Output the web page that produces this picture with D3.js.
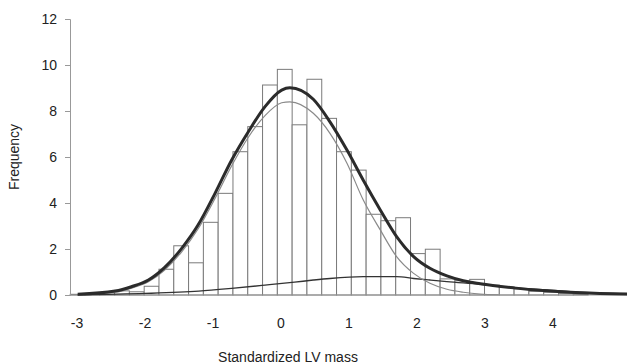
<!DOCTYPE html>
<html>
<head>
<meta charset="utf-8">
<script src="https://cdn.jsdelivr.net/npm/d3@7"></script>
<style>
  html, body { margin: 0; padding: 0; background: #fff; }
  svg { display: block; }
</style>
</head>
<body>
<svg id="svg"></svg>
<script>
// histogram counts (frequency, %) per bin, left to right
const binStart = -3.1;
const binWidth = 0.2176;
const binCounts = [0.03, 0.05, 0.1, 0.18, 0.14, 0.38, 1.12, 2.14, 1.4, 3.16,
  4.42, 6.23, 7.32, 9.13, 9.81, 7.4, 9.38, 7.68, 6.23, 5.43,
  3.51, 3.23, 3.36, 1.8, 1.99, 0.7, 0.62, 0.68, 0.43, 0.36,
  0.27, 0.16, 0.12, 0.07, 0.04];

// fitted curves
const totalX = [-2.99, -2.44, -2.2, -1.95, -1.71, -1.46, -1.22, -0.97, -0.725, -0.48, -0.235, 0.01, 0.13, 0.475, 0.72, 0.97, 1.21, 1.46, 1.7, 1.95, 2.19, 2.44, 2.68, 2.93, 3.42, 3.91, 4.4, 5.15];
const totalY = [0.03, 0.17, 0.36, 0.65, 1.2, 2.03, 3.04, 4.42, 5.87, 7.1, 8.19, 8.91, 9.01, 8.51, 7.53, 6.3, 4.99, 3.7, 2.54, 1.67, 1.16, 0.83, 0.62, 0.49, 0.31, 0.18, 0.1, 0.04];

const mainX = [-2.99, -2.44, -2.2, -1.95, -1.71, -1.46, -1.22, -0.97, -0.725, -0.48, -0.235, 0.01, 0.13, 0.475, 0.72, 0.97, 1.21, 1.46, 1.7, 1.95, 2.19, 2.44, 2.68, 2.93, 3.2];
const mainY = [0.02, 0.12, 0.3, 0.58, 1.09, 1.88, 2.87, 4.2, 5.62, 6.86, 7.8, 8.36, 8.4, 7.9, 7.03, 5.73, 4.13, 2.83, 1.67, 0.94, 0.51, 0.25, 0.12, 0.04, 0.01];

const secX = [-2.99, -2.0, -1.21, -0.725, -0.235, 0.2, 0.475, 0.72, 1.21, 1.7, 1.95, 2.19, 2.44, 2.93, 3.42, 3.91, 4.4, 5.15];
const secY = [0.01, 0.07, 0.17, 0.29, 0.43, 0.56, 0.65, 0.72, 0.8, 0.8, 0.72, 0.65, 0.58, 0.47, 0.32, 0.22, 0.12, 0.04];

const xTicks = [-3, -2, -1, 0, 1, 2, 3, 4];
const yTicks = [0, 2, 4, 6, 8, 10, 12];

const width = 627;
const height = 364;
const font = "'Liberation Sans', Arial, sans-serif";

const svg = d3.select("#svg")
  .attr("width", width)
  .attr("height", height)
  .attr("font-family", font)
  .attr("font-size", 14);

const x = d3.scaleLinear([-3, 4], [77, 553]);
const y = d3.scaleLinear([0, 12], [295, 19]);

// bars
svg.append("g")
  .selectAll("rect")
  .data(binCounts)
  .join("rect")
  .attr("x", (d, i) => x(binStart + i * binWidth))
  .attr("y", d => y(d))
  .attr("width", x(binWidth) - x(0))
  .attr("height", d => y(0) - y(d))
  .attr("fill", "#fff")
  .attr("stroke", "#7a7a7a")
  .attr("stroke-width", 1);

// y axis
const yAxis = svg.append("g")
  .attr("transform", "translate(70,0)")
  .call(d3.axisLeft(y).tickValues(yTicks).tickSize(5).tickPadding(8));
yAxis.select(".domain").attr("stroke", "#999");
yAxis.selectAll(".tick line").attr("stroke", "#999");
yAxis.selectAll("text").attr("fill", "#222").attr("font-size", 14).attr("font-family", font);

// x axis baseline
svg.append("line")
  .attr("x1", 70).attr("x2", width)
  .attr("y1", y(0)).attr("y2", y(0))
  .attr("stroke", "#999");

svg.append("g")
  .selectAll("text")
  .data(xTicks)
  .join("text")
  .attr("x", d => x(d))
  .attr("y", 328)
  .attr("text-anchor", "middle")
  .attr("fill", "#222")
  .text(d => d);

// curves
const line = d3.line().curve(d3.curveMonotoneX);

svg.append("path")
  .attr("d", line(secX.map((v, i) => [x(v), y(secY[i])])))
  .attr("fill", "none")
  .attr("stroke", "#333")
  .attr("stroke-width", 1.4);

svg.append("path")
  .attr("d", line(mainX.map((v, i) => [x(v), y(mainY[i])])))
  .attr("fill", "none")
  .attr("stroke", "#8a8a8a")
  .attr("stroke-width", 1.2);

svg.append("path")
  .attr("d", line(totalX.map((v, i) => [x(v), y(totalY[i])])))
  .attr("fill", "none")
  .attr("stroke", "#2b2b2b")
  .attr("stroke-width", 3);

// axis titles
svg.append("text")
  .attr("transform", "translate(19,157) rotate(-90)")
  .attr("text-anchor", "middle")
  .attr("fill", "#222")
  .text("Frequency");

svg.append("text")
  .attr("x", 288)
  .attr("y", 362)
  .attr("text-anchor", "middle")
  .attr("fill", "#222")
  .text("Standardized LV mass");
</script>
</body>
</html>
